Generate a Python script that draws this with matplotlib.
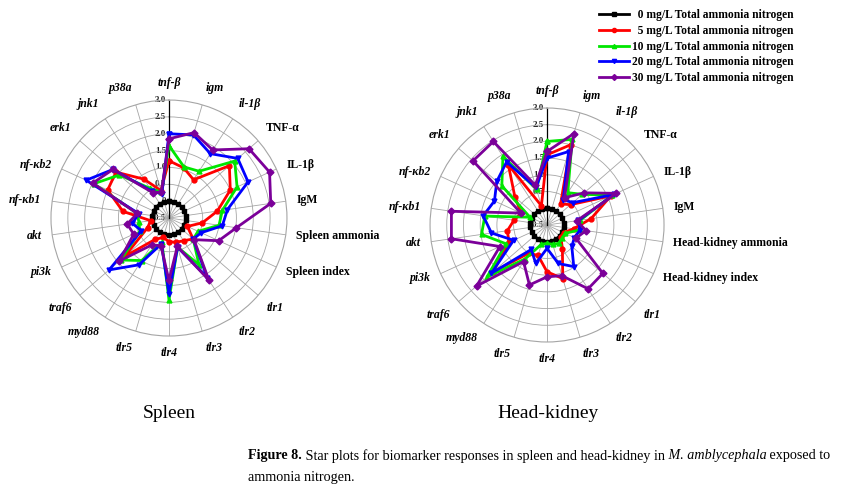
import numpy as np
import matplotlib
matplotlib.use("Agg")
import matplotlib.pyplot as plt
from matplotlib import transforms
from matplotlib.font_manager import FontProperties
from matplotlib.lines import Line2D

SERIF = "Liberation Serif"

# axis names (clockwise from top)
genes_front = ["tnf-β", "igm", "il-1β", "TNF-α", "IL-1β", "IgM"]
genes_back = ["tlr1", "tlr2", "tlr3", "tlr4", "tlr5", "myd88", "traf6",
              "pi3k", "akt", "nf-κb1", "nf-κb2", "erk1", "jnk1", "p38a"]
spleen_axes = genes_front + ["Spleen ammonia", "Spleen index"] + genes_back
kidney_axes = genes_front + ["Head-kidney ammonia", "Head-kidney index"] + genes_back
upright = {"TNF-α", "IL-1β", "IgM", "Spleen ammonia", "Spleen index",
           "Head-kidney ammonia", "Head-kidney index"}

series_labels = ["  0 mg/L Total ammonia nitrogen", "  5 mg/L Total ammonia nitrogen",
                 "10 mg/L Total ammonia nitrogen", "20 mg/L Total ammonia nitrogen",
                 "30 mg/L Total ammonia nitrogen"]
series_colors = ["black", "#ff0000", "#00e600", "#0000ff", "#7b0099"]
series_markers = ["s", "o", "^", "v", "D"]

# values (spleen)
sp_0 = [0.0] * 22
sp_5 = [1.2, 1.05, 0.85, 1.87, 1.5, 0.95, 0.5, 0.1, 0.45, 0.3, 0.25, 0.2, 0.1, 0.25,
        1.25, 0.2, 0.05, 0.88, 1.5, 1.58, 0.87, 0.35]
sp_10 = [1.65, 1.08, 1.15, 2.08, 1.72, 1.1, 1.0, 0.45, 0.45, 1.15, 0.4, 1.93, 0.25, 1.0,
         1.4, 0.45, 0.4, 0.45, 1.95, 1.45, 0.55, 0.3]
sp_20 = [2.0, 2.07, 1.77, 2.2, 2.08, 1.25, 1.1, 0.55, 0.45, 1.6, 0.4, 1.75, 0.3, 1.15,
         1.85, 0.4, 0.6, 0.4, 2.2, 1.7, 0.45, 0.25]
sp_30 = [1.85, 2.14, 1.9, 2.64, 2.78, 2.55, 1.52, 1.12, 0.48, 1.69, 0.38, 1.35, 0.35, 0.45,
         1.45, 0.65, 0.75, 0.45, 1.99, 1.7, 0.4, 0.3]

# head-kidney
hk_0 = [0.0] * 22
hk_5 = [1.6, 2.0, 0.25, 0.43, 1.6, 0.83, 0.3, 0.05, 0.05, 0.35, 1.17, 0.9, 0.45, 0.5,
        1.65, 0.75, 0.7, 0.5, 0.35, 0.77, 1.64, 0.1]
hk_10 = [2.0, 2.17, 0.65, 0.9, 1.65, 0.5, 0.5, 0.1, 0.1, 0.15, 0.1, 0.05, 0.1, 0.7,
         1.88, 0.85, 1.48, 1.38, 0.06, 1.29, 1.94, 0.61]
hk_20 = [1.5, 1.79, 0.4, 0.52, 1.7, 0.45, 0.5, 0.4, 0.48, 0.98, 0.7, 0.2, 0.7, 0.37,
         1.7, 0.6, 1.18, 1.43, 1.23, 1.49, 1.74, 0.67]
hk_30 = [1.7, 2.35, 0.47, 0.97, 1.78, 0.4, 0.68, 0.45, 1.71, 1.77, 1.08, 1.05, 1.37, 0.8,
         2.29, 1.05, 2.39, 2.39, 0.36, 2.43, 2.47, 0.74]

r_ticks = [3.0, 2.5, 2.0, 1.5, 1.0, 0.5, 0, -0.5]

fig = plt.figure(figsize=(8.47, 4.93), dpi=100)


def star(rect, names, data):
    ax = fig.add_axes(rect, projection="polar")
    n = len(names)
    theta = np.arange(n) * 2 * np.pi / n
    ax.set_theta_zero_location("N")
    ax.set_theta_direction(-1)
    ax.set_ylim(-0.5, 3.0)
    ax.set_thetagrids(np.degrees(theta), [""] * n)
    ax.set_rgrids([0, 0.5, 1.0, 1.5, 2.0, 2.5], [""] * 6)
    ax.grid(True, color="#a5a5a5", lw=0.6)
    ax.spines["polar"].set_color("#a5a5a5")
    ax.spines["polar"].set_linewidth(0.8)
    ax.plot([0, 0], [-0.5, 3.0], color="black", lw=0.9, zorder=2)

    off = transforms.offset_copy(ax.transData, fig=fig, x=-2, y=0, units="points")
    for v in r_ticks:
        txt = "%.1f" % v if v != 0 else "0"
        ax.text(0, v, txt, transform=off, ha="right", va="center", fontsize=6.5,
                fontweight="bold", family=SERIF, color="#222222", zorder=1)

    for vals, c, m in zip(data, series_colors, series_markers):
        vv = list(vals) + [vals[0]]
        tt = list(theta) + [theta[0]]
        ax.plot(tt, vv, color=c, lw=2.0, marker=m, ms=3.5, mfc=c, mec=c, zorder=3,
                clip_on=False)

    for th, name in zip(theta, names):
        s, c = np.sin(th), np.cos(th)
        ha = "left" if s > 0.15 else ("right" if s < -0.15 else "center")
        va = "bottom" if c > 0.6 else ("top" if c < -0.6 else "center")
        ax.text(th, 3.32, name, ha=ha, va=va, fontsize=8.5, fontweight="bold",
                fontstyle="normal" if name in upright else "italic", family=SERIF)
    return ax


star([0.0602, 0.3184, 0.2786, 0.4787], spleen_axes, [sp_0, sp_5, sp_10, sp_20, sp_30])
star([0.5077, 0.3063, 0.2763, 0.4746], kidney_axes, [hk_0, hk_5, hk_10, hk_20, hk_30])

fig.text(169 / 847, 1 - 414 / 493, "Spleen", ha="center", va="center", fontsize=14, family=SERIF)
fig.text(548 / 847, 1 - 414 / 493, "Head-kidney", ha="center", va="center", fontsize=14,
         family=SERIF)

handles = [Line2D([], [], color=c, lw=2, marker=m, ms=3, mfc=c, mec=c)
           for c, m in zip(series_colors, series_markers)]
fig.legend(handles, series_labels, loc="upper right", bbox_to_anchor=(794 / 847, 1 - 9 / 493),
           frameon=False, prop=FontProperties(family=SERIF, weight="bold", size=8.3),
           handlelength=2.6, handletextpad=0.3, labelspacing=0.33, borderaxespad=0,
           borderpad=0)

# caption with mixed styles
renderer = fig.canvas.get_renderer()
ident = transforms.IdentityTransform()
cap_size = 10.2


def rich(x, y, pieces):
    for txt, kw in pieces:
        t = fig.text(x, y, txt, transform=ident, fontsize=cap_size, family=SERIF,
                     va="center", ha="left", **kw)
        x = t.get_window_extent(renderer).x1


rich(248, 493 - 456, [("Figure 8.", {"fontweight": "bold"}),
                      (" Star plots for biomarker responses in spleen and head-kidney in", {}),
                      (" M. amblycephala", {"fontstyle": "italic"}),
                      (" exposed to", {})])
rich(248, 493 - 477, [("ammonia nitrogen.", {})])

fig.savefig("out.png", dpi=100)
